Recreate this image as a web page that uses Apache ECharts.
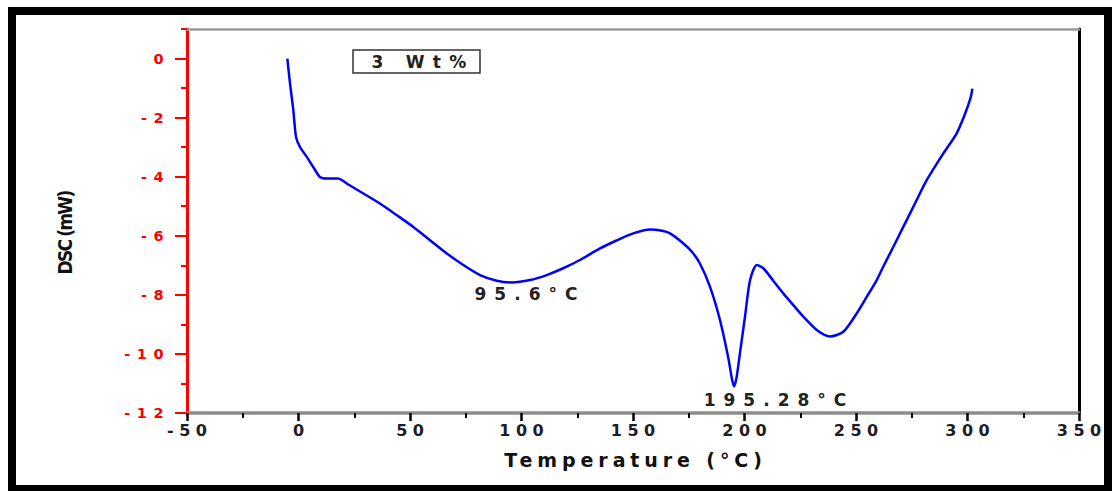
<!DOCTYPE html>
<html><head><meta charset="utf-8">
<script src="https://cdn.jsdelivr.net/npm/echarts@6/dist/echarts.min.js"></script>
<style>
html,body{margin:0;padding:0;background:#fff;}
#c{width:1113px;height:491px;}
text[style*="xtk"]{letter-spacing:5.5px;}
text[style*="ytk"]{letter-spacing:6.5px;}
text[style*="ann"]{letter-spacing:8px;}
text[style*="lgd"]{letter-spacing:8.3px;}
text[style*="ttl"]{letter-spacing:4.9px;}
text[style*="ynm"]{letter-spacing:-1.8px;}
</style></head><body><div id="c"></div>
<script>
// ---- data ----
const seriesName = '3 Wt%';
const temperature = [-5.0,-3.8,-2.3,-1.1,0.7,3.7,6.6,9.6,12.6,17.8,21.6,29.1,36.5,44.0,51.5,59.0,66.5,73.9,81.4,88.9,95.6,103.8,111.3,118.7,126.2,135.2,142.6,150.1,157.6,163,166.6,172.6,176.5,180,184.5,189,192.7,194.3,195.28,196.4,198,200.2,202.5,205.5,208.4,212.9,217.4,221.9,226.4,232.4,238.3,244.3,250.3,254.8,259.3,262.2,266.7,271.2,276.5,281.7,289.1,295.1,298.9,301.3,302.2];
const dsc = [0,-0.85,-1.76,-2.66,-3.0,-3.33,-3.67,-4.01,-4.06,-4.06,-4.23,-4.57,-4.91,-5.30,-5.70,-6.15,-6.60,-6.99,-7.33,-7.52,-7.58,-7.50,-7.33,-7.10,-6.82,-6.43,-6.16,-5.92,-5.79,-5.83,-5.92,-6.26,-6.55,-6.94,-7.72,-8.85,-10.12,-10.82,-11.1,-10.82,-9.95,-8.75,-7.5,-6.99,-7.1,-7.52,-7.95,-8.35,-8.74,-9.19,-9.41,-9.25,-8.63,-8.07,-7.5,-7.05,-6.38,-5.7,-4.9,-4.12,-3.22,-2.54,-1.87,-1.35,-1.02];
const yMajorTicks = [-12,-10,-8,-6,-4,-2,0];
const peakTemps = [95.6, 195.28];
const peakDsc = [-7.58, -11.1];
const peakLabels = ['95.6°C', '195.28°C'];

// ---- layout ----
const labelOffsets = [[18.3, 11.5], [45, 13.5]];
const plotLeft = 187, plotRight = 34, plotTop = 29, plotBottom = 78;
const zeroTop = plotTop + (491 - plotTop - plotBottom) / 13; // top of grid whose max is 0

const chart = echarts.init(document.getElementById('c'), null, {renderer: 'svg'});
const option = {
  animation: false,
  backgroundColor: '#fff',
  grid: [
    {left: plotLeft, right: plotRight, top: plotTop, bottom: plotBottom},
    {left: plotLeft, right: plotRight, top: zeroTop, bottom: plotBottom}
  ],
  xAxis: [{
    type: 'value', gridIndex: 0, min: -50, max: 350, interval: 50,
    name: 'Temperature (°C)', nameLocation: 'middle', nameGap: 37,
    nameTextStyle: {fontFamily: 'DejaVu Sans, ttl', fontSize: 19, fontWeight: 'bold', color: '#111', padding: [0,0,0,5]},
    axisLine: {show: true, onZero: false, lineStyle: {color: '#8c8c8c', width: 3.5}},
    axisTick: {show: true, inside: false, length: 8, lineStyle: {color: '#000', width: 2.5}},
    minorTick: {show: true, splitNumber: 2, length: 5, lineStyle: {color: '#000', width: 2}},
    axisLabel: {margin: 9, fontFamily: 'DejaVu Sans, xtk', fontSize: 16, fontWeight: 'bold', color: '#1c1c2a', padding: [0,0,0,5.5]},
    splitLine: {show: false}
  }, {
    type: 'value', gridIndex: 0, position: 'top', min: -50, max: 350,
    axisLine: {show: true, onZero: false, lineStyle: {color: '#9a9a9a', width: 2.5}},
    axisTick: {show: false}, axisLabel: {show: false}, splitLine: {show: false}
  }, {
    type: 'value', gridIndex: 1, min: -50, max: 350, show: false
  }],
  yAxis: [{
    type: 'value', gridIndex: 0, min: -12, max: 1, interval: 1,
    name: 'DSC (mW)', nameLocation: 'middle', nameGap: 113,
    nameTextStyle: {fontFamily: 'DejaVu Sans Condensed, ynm', fontSize: 19, fontWeight: 'bold', color: '#111', padding: [0,24,0,0]},
    axisLine: {show: true, onZero: false, lineStyle: {color: '#ff0000', width: 3}},
    axisTick: {show: true, length: 6, lineStyle: {color: '#ff0000', width: 2}},
    axisLabel: {customValues: yMajorTicks, margin: 17, fontFamily: 'DejaVu Sans, ytk', fontSize: 14.5, fontWeight: 'bold', color: '#ff0000'},
    splitLine: {show: false}
  }, {
    type: 'value', gridIndex: 0, position: 'right', min: -12, max: 1,
    axisLine: {show: true, onZero: false, lineStyle: {color: '#000', width: 3}},
    axisTick: {show: false}, axisLabel: {show: false}, splitLine: {show: false}
  }, {
    type: 'value', gridIndex: 1, position: 'left', min: -12, max: 0, interval: 2,
    axisLine: {show: false, onZero: false},
    axisTick: {show: true, length: 12, lineStyle: {color: '#ff0000', width: 2}},
    axisLabel: {show: false}, splitLine: {show: false}
  }],
  series: [{
    type: 'line', name: seriesName, xAxisIndex: 0, yAxisIndex: 0,
    data: temperature.map((t, i) => [t, dsc[i]]),
    showSymbol: false, smooth: 0.25,
    lineStyle: {color: '#0000ff', width: 2.5}, itemStyle: {color: '#0000ff'},
    markPoint: {
      symbol: 'circle', symbolSize: 1, itemStyle: {color: 'rgba(0,0,0,0)'},
      label: {show: true, formatter: p => p.name, fontFamily: 'DejaVu Sans, ann', fontSize: 17, fontWeight: 'bold', color: '#222'},
      data: peakTemps.map((t, i) => ({name: peakLabels[i], coord: [t, peakDsc[i]], label: {offset: labelOffsets[i]}}))
    }
  }],
  graphic: [
    {type: 'rect', silent: true, z: 100, shape: {x: 12, y: 11, width: 1096, height: 478}, style: {fill: 'none', stroke: '#000', lineWidth: 8}},
    {type: 'rect', silent: true, shape: {x: 353, y: 50, width: 127, height: 23}, style: {fill: '#fff', stroke: '#333', lineWidth: 1.5}},
    {type: 'text', silent: true, x: 423, y: 62, style: {text: seriesName, fontFamily: 'DejaVu Sans, lgd', fontSize: 17, fontWeight: 'bold', fill: '#222', align: 'center', verticalAlign: 'middle'}}
  ]
};
chart.setOption(option);
</script></body></html>
